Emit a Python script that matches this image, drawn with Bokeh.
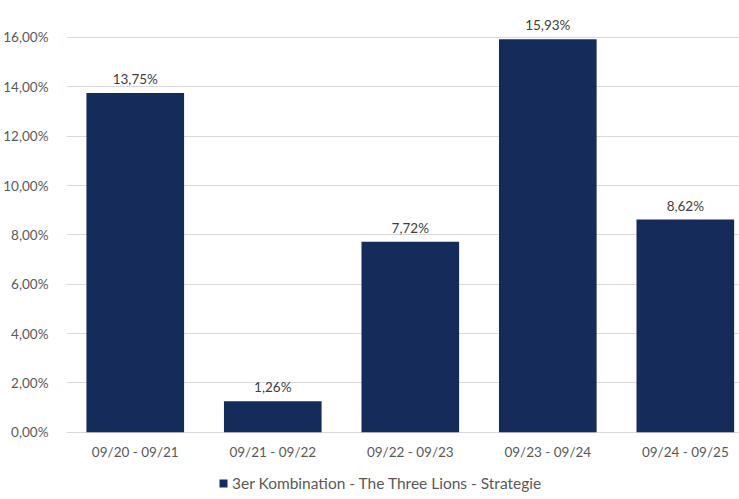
from bokeh.plotting import figure
from bokeh.models import ColumnDataSource, Range1d, FixedTicker, Legend, LegendItem
from bokeh.core.properties import value
from bokeh.embed import file_html
from bokeh.resources import INLINE

categories = ["09/20 - 09/21", "09/21 - 09/22", "09/22 - 09/23", "09/23 - 09/24", "09/24 - 09/25"]
returns = [0.1375, 0.0126, 0.0772, 0.1593, 0.0862]
bar_labels = ["13,75%", "1,26%", "7,72%", "15,93%", "8,62%"]
y_ticks = [0.0, 0.02, 0.04, 0.06, 0.08, 0.10, 0.12, 0.14, 0.16]
y_tick_labels = ["0,00%", "2,00%", "4,00%", "6,00%", "8,00%", "10,00%", "12,00%", "14,00%", "16,00%"]
series_name = "3er Kombination - The Three Lions - Strategie"

FONT = "Lato"
BAR = "#152b5a"
FS = "13.5px"

xs = list(range(len(categories)))
src = ColumnDataSource(dict(x=xs, top=returns, label=bar_labels))
cat_src = ColumnDataSource(dict(x=xs, y=[0.0] * len(xs), label=categories))

p = figure(width=739, height=496, output_backend="svg", toolbar_location=None,
           x_range=Range1d(-0.5, 4.394), y_range=Range1d(-0.026, 0.1681),
           min_border_left=64, min_border_right=0, min_border_top=17, min_border_bottom=0)
p.outline_line_color = None
p.background_fill_color = "white"
p.border_fill_color = "white"

r = p.vbar(x="x", top="top", width=0.71, source=src, fill_color=BAR, line_color=None)
p.text(x="x", y="top", text="label", source=src, text_align="center", text_baseline="bottom",
       y_offset=-6, text_font=value(FONT), text_font_size=FS, text_color="#404040")
# category labels along the zero line
p.text(x="x", y="y", text="label", source=cat_src, text_align="center", text_baseline="middle",
       y_offset=20, text_font=value(FONT), text_font_size=FS, text_color="#595959")

p.xgrid.grid_line_color = None
p.ygrid.grid_line_color = "#d9d9d9"
p.ygrid.ticker = FixedTicker(ticks=y_ticks)

p.yaxis.ticker = FixedTicker(ticks=y_ticks)
p.yaxis.major_label_overrides = {t: l for t, l in zip(y_ticks, y_tick_labels)}
p.yaxis.axis_line_color = None
p.yaxis.major_tick_line_color = None
p.yaxis.minor_tick_line_color = None
p.yaxis.major_label_text_font = FONT
p.yaxis.major_label_text_font_size = FS
p.yaxis.major_label_text_color = "#595959"
p.yaxis.major_label_standoff = 12

p.xaxis.visible = False

legend = Legend(items=[LegendItem(label=series_name, renderers=[r])], orientation="horizontal",
                location=(152, 4), border_line_color=None, background_fill_alpha=0,
                label_text_font=FONT, label_text_font_size="15.5px", label_text_color="#595959",
                glyph_width=10, glyph_height=10, label_standoff=4, padding=2, margin=0)
p.add_layout(legend, "center")

open("out.html", "w").write(file_html(p, INLINE))
